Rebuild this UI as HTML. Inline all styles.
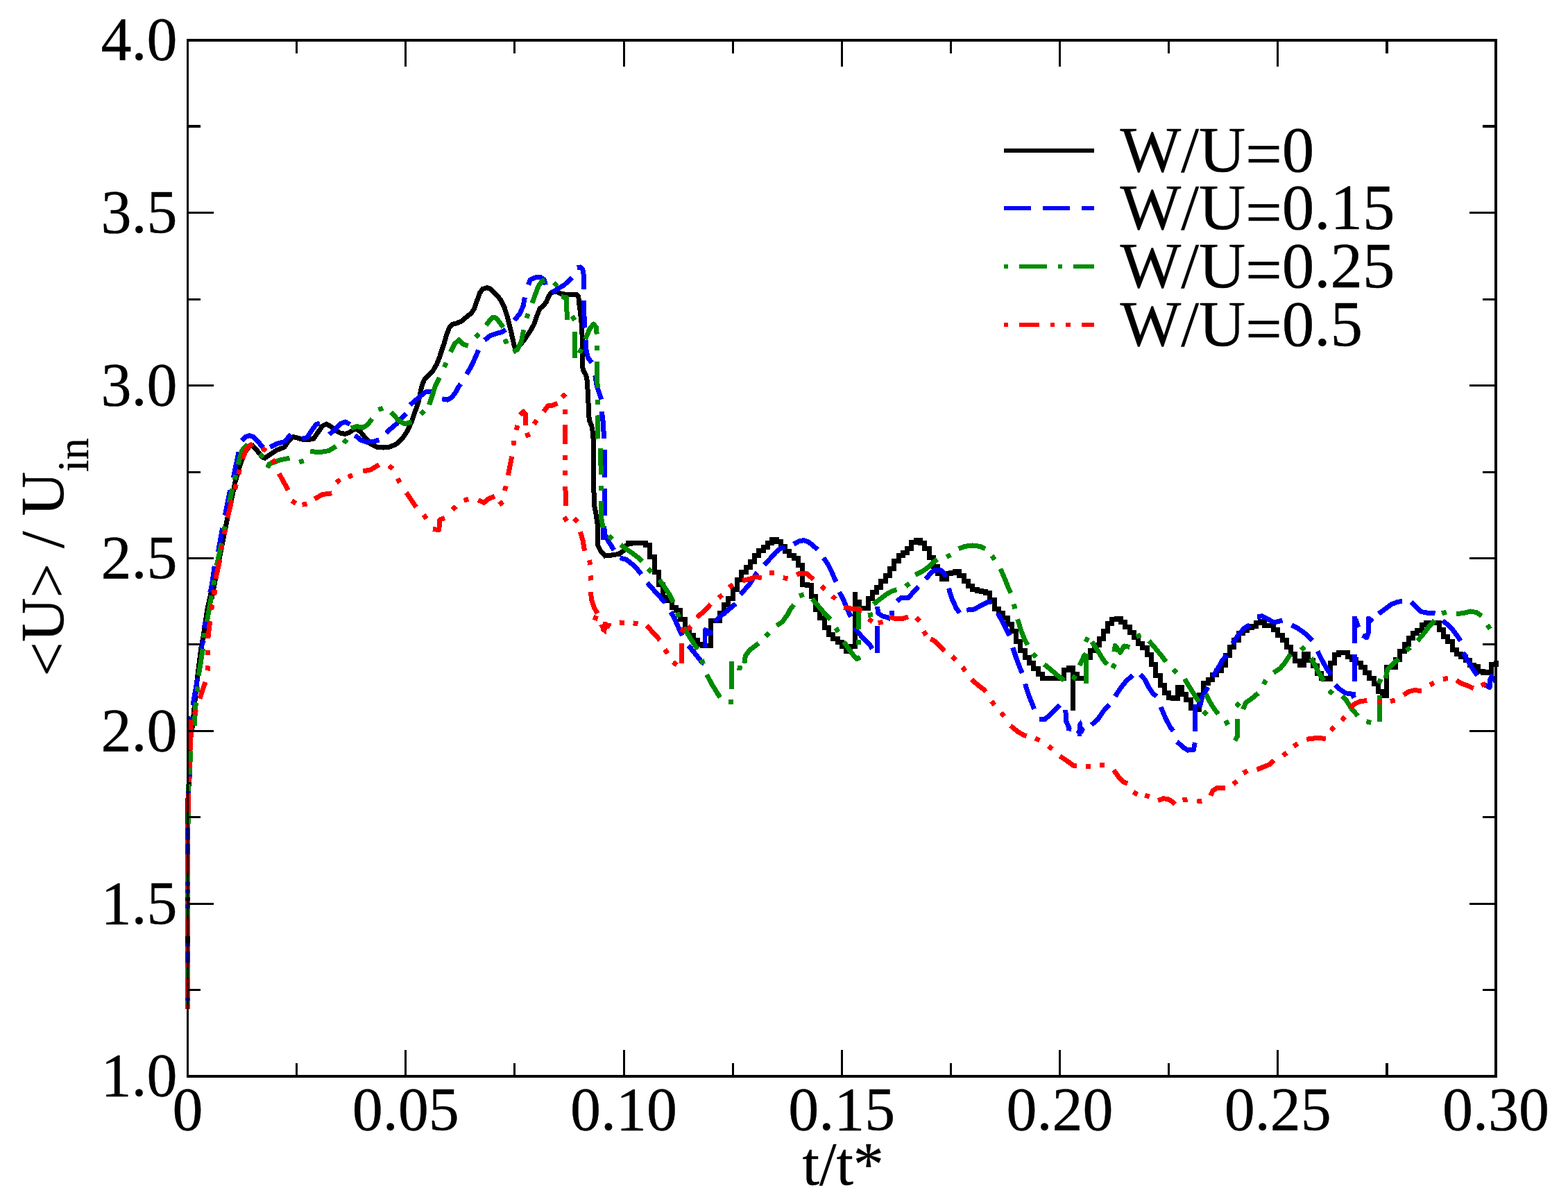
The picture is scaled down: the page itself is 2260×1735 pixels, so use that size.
<!DOCTYPE html>
<html lang="en"><head><meta charset="utf-8"><title>&lt;U&gt; / U_in vs t/t*</title>
<style>
html,body{margin:0;padding:0;background:#fff;}
body{width:2260px;height:1735px;overflow:hidden;}
svg{display:block;}
text{font-family:"Liberation Serif","DejaVu Serif",serif;fill:#000;stroke:#000;stroke-width:0.4px;stroke-linejoin:round;}
.tk{font-size:88px;}
.lg{font-size:93px;}
.c{fill:none;stroke-linecap:butt;}
</style></head><body>
<svg width="2260" height="1735" viewBox="0 0 2260 1735">
<rect x="0" y="0" width="2260" height="1735" fill="#fff"/>
<g shape-rendering="crispEdges" stroke-linejoin="round">
<path class="c" d="M270.8 1454.4L270.8 1150L271.6 1160L272.1 1126.8L273.6 1089.9L274.9 1062.2L277.7 1043.7L280.4 1016.1L284.1 979.2L288.7 942.3L293.4 914.6L298.9 877.7L305 850L305 863.3L314.8 812.2L326.7 751.9L338.9 695.2L346.8 667.8L353.2 651.4L359.6 643.1L364.2 642.2L371.5 650.5L377.9 658.7L381.5 660.1L387.9 655.9L398.9 648.6L409.8 644.4L417.1 634L422.6 629.4L429.9 631.3L435.4 633.1L444.6 633.5L451.9 632.2L458.3 623L464.7 613.9L470.1 611.2L475.6 613.9L482.9 619.4L490.2 624L497.6 625.4L503.9 623L510.3 618.5L514 618.1L519.5 622.1L526.8 631.3L534.1 639.5L543.2 644.1L552.4 645L561.5 644.1L570.6 640.4L579.8 632.2L587.1 621.2L592.6 609.3L592.6 609.3L602.9 580L607.5 557.9L611.2 547.9L616.6 541.5L624 534.2L629.4 525L633.1 515.9L636.7 504.9L640.4 494L644.1 481.2L647.7 472L652.3 467.5L658.7 465.6L665.1 462.9L671.5 457.4L678.8 451.9L683.3 445.5L686.1 437.3L688.8 430L688.8 429.9L691.2 422.6L695.7 416.4L702.1 414.7L707.2 416.4L711.6 420.8L716.7 425.9L722.2 433.2L726.8 442.3L731.4 456.9L736.8 478.9L741.4 499L743.8 503.5L749.6 497.1L756.9 488L764.3 477L770.1 466.5L773 457.3L775.6 450.7L778.3 444.5L782.5 441.1L787.1 435.6L790.8 427.3L794.4 421.5L797.5 420L800.8 420L805.4 421.9L809.9 423.7L815.4 424.1L822.7 424.1L831 424.1L833.7 426.8L834.6 436.8L836.4 449.6L838.3 467.9L839.2 486.2L839.2 504.5L839.5 522.7L840.1 531.9L844.7 541L846.5 550.1L847.4 568.4L848.3 586.7L849.2 605L852.9 614.1L854.7 625.1L854.7 625.6L855.3 636.5L855.6 673.1L856 709.6L856.5 727.9L859.3 742.5L861.1 755.3L861.5 773.6L862 786.4L865.7 793.7L872.1 801L881.2 800.1L892.2 798.3L898.6 793.7L902.2 786.4L906.8 783.6L914.1 782.7M1232.1 853.2L1232.1 933.6M1546.4 962.8L1546.4 1023.7M902.4 782.7L905.3 782.7L905.3 782.7L911.6 782.7L911.6 782.7L917.9 782.7L917.9 782.7L924.1 782.7L924.1 782.7L930.4 782.7L930.4 785.9L936.7 785.9L936.7 802.6L943 802.6L943 824.9L949.3 824.9L949.3 842.8L955.6 842.8L955.6 860.4L961.9 860.4L961.9 865.9L968.1 865.9L968.1 875.9L974.4 875.9L974.4 879.6L980.7 879.6L980.7 892.9L987 892.9L987 908.8L993.3 908.8L993.3 915.2L999.6 915.2L999.6 922.5L1005.8 922.5L1005.8 928L1012.1 928L1012.1 930.6L1018.4 930.6L1018.4 930.3L1024.7 930.3L1024.7 894.7L1031 894.7L1031 894.6L1037.3 894.6L1037.3 883.2L1043.6 883.2L1043.6 871.4L1049.8 871.4L1049.8 862.7L1056.1 862.7L1056.1 849.7L1062.4 849.7L1062.4 835.5L1068.7 835.5L1068.7 824.6L1075 824.6L1075 817.1L1081.3 817.1L1081.3 809.6L1087.6 809.6L1087.6 800.5L1093.8 800.5L1093.8 793.5L1100.1 793.5L1100.1 788L1106.4 788L1106.4 782.7L1112.7 782.7L1112.7 777.6L1119 777.6L1119 780.4L1125.3 780.4L1125.3 787.8L1131.5 787.8L1131.5 794.6L1137.8 794.6L1137.8 800.1L1144.1 800.1L1144.1 804.7L1150.4 804.7L1150.4 814.8L1156.7 814.8L1156.7 842.4L1163 842.4L1163 843.9L1169.3 843.9L1169.3 859.1L1175.5 859.1L1175.5 878.7L1181.8 878.7L1181.8 890.8L1188.1 890.8L1188.1 904L1194.4 904L1194.4 914.5L1200.7 914.5L1200.7 920.9L1207 920.9L1207 925.5L1213.2 925.5L1213.2 931.9L1219.5 931.9L1219.5 938.5L1225.8 938.5L1225.8 931.4L1232.1 931.4L1232.1 867L1238.4 867L1238.4 876.9L1244.7 876.9L1244.7 876.9L1251 876.9L1251 862.8L1257.2 862.8L1257.2 853.5L1263.5 853.5L1263.5 846.2L1269.8 846.2L1269.8 837.6L1276.1 837.6L1276.1 829.1L1282.4 829.1L1282.4 819.6L1288.7 819.6L1288.7 808.7L1295 808.7L1295 800.4L1301.2 800.4L1301.2 796.3L1307.5 796.3L1307.5 790.8L1313.8 790.8L1313.8 781.3L1320.1 781.3L1320.1 778.5L1326.4 778.5L1326.4 782.6L1332.7 782.6L1332.7 790.8L1339 790.8L1339 803.2L1345.2 803.2L1345.2 816.9L1351.5 816.9L1351.5 826.4L1357.8 826.4L1357.8 834.2L1364.1 834.2L1364.1 826.5L1370.4 826.5L1370.4 825.8L1376.7 825.8L1376.7 823.7L1382.9 823.7L1382.9 829.2L1389.2 829.2L1389.2 837.4L1395.5 837.4L1395.5 844.3L1401.8 844.3L1401.8 849.7L1408.1 849.7L1408.1 851.1L1414.4 851.1L1414.4 852.5L1420.7 852.5L1420.7 854.6L1426.9 854.6L1426.9 864.8L1433.2 864.8L1433.2 877.1L1439.5 877.1L1439.5 883.9L1445.8 883.9L1445.8 890.8L1452.1 890.8L1452.1 899L1458.4 899L1458.4 909.4L1464.7 909.4L1464.7 924.5L1470.9 924.5L1470.9 937.5L1477.2 937.5L1477.2 947L1483.5 947L1483.5 955.2L1489.8 955.2L1489.8 963.4L1496.1 963.4L1496.1 971.6L1502.4 971.6L1502.4 977.2L1508.6 977.2L1508.6 977.9L1514.9 977.9L1514.9 977.9L1521.2 977.9L1521.2 977.9L1527.5 977.9L1527.5 977.9L1533.8 977.9L1533.8 965L1540.1 965L1540.1 962.8L1546.4 962.8L1546.4 971.8L1552.6 971.8L1552.6 977.2L1558.9 977.2L1558.9 977.2L1565.2 977.2L1565.2 947.6L1571.5 947.6L1571.5 937.9L1577.8 937.9L1577.8 929.7L1584.1 929.7L1584.1 920.5L1590.4 920.5L1590.4 909.5L1596.6 909.5L1596.6 898.7L1602.9 898.7L1602.9 892.6L1609.2 892.6L1609.2 891.2L1615.5 891.2L1615.5 896.6L1621.8 896.6L1621.8 903.5L1628.1 903.5L1628.1 911.7L1634.3 911.7L1634.3 918.8L1640.6 918.8L1640.6 927L1646.9 927L1646.9 933.1L1653.2 933.1L1653.2 943.4L1659.5 943.4L1659.5 957.1L1665.8 957.1L1665.8 973.3L1672.1 973.3L1672.1 987L1678.3 987L1678.3 998.2L1684.6 998.2L1684.6 1005.7L1690.9 1005.7L1690.9 1006.3L1697.2 1006.3L1697.2 990.7L1703.5 990.7L1703.5 1000.2L1709.8 1000.2L1709.8 1008.4L1716 1008.4L1716 1020.6L1722.3 1020.6L1722.3 1022.9L1728.6 1022.9L1728.6 1001.4L1734.9 1001.4L1734.9 984.4L1741.2 984.4L1741.2 979.6L1747.5 979.6L1747.5 972.8L1753.8 972.8L1753.8 966.6L1760 966.6L1760 958.4L1766.3 958.4L1766.3 944.6L1772.6 944.6L1772.6 932.3L1778.9 932.3L1778.9 922.7L1785.2 922.7L1785.2 912.5L1791.5 912.5L1791.5 908.4L1797.8 908.4L1797.8 904.9L1804 904.9L1804 902.2L1810.3 902.2L1810.3 897.8L1816.6 897.8L1816.6 895.2L1822.9 895.2L1822.9 901.1L1829.2 901.1L1829.2 901.1L1835.5 901.1L1835.5 907.6L1841.8 907.6L1841.8 915.3L1848 915.3L1848 922.6L1854.3 922.6L1854.3 932.4L1860.6 932.4L1860.6 942.8L1866.9 942.8L1866.9 952.5L1873.2 952.5L1873.2 958.4L1879.5 958.4L1879.5 942.7L1885.7 942.7L1885.7 951.5L1892 951.5L1892 959.5L1898.3 959.5L1898.3 970.4L1904.6 970.4L1904.6 977.2L1910.9 977.2L1910.9 978L1917.2 978L1917.2 955.5L1923.5 955.5L1923.5 943.5L1929.7 943.5L1929.7 940L1936 940L1936 940.3L1942.3 940.3L1942.3 946.6L1948.6 946.6L1948.6 950.4L1954.9 950.4L1954.9 955L1961.2 955L1961.2 961L1967.5 961L1967.5 969.5L1973.7 969.5L1973.7 977L1980 977L1980 985L1986.3 985L1986.3 996.1L1992.6 996.1L1992.6 1002.7L1998.9 1002.7L1998.9 961L2005.2 961L2005.2 961L2011.4 961L2011.4 950.3L2017.7 950.3L2017.7 938.6L2024 938.6L2024 928.5L2030.3 928.5L2030.3 919.5L2036.6 919.5L2036.6 912.3L2042.9 912.3L2042.9 908.2L2049.2 908.2L2049.2 900.5L2055.4 900.5L2055.4 897.5L2061.7 897.5L2061.7 897.5L2068 897.5L2068 897.5L2074.3 897.5L2074.3 907.7L2080.6 907.7L2080.6 917.1L2086.9 917.1L2086.9 924.2L2093.2 924.2L2093.2 936.1L2099.4 936.1L2099.4 942L2105.7 942L2105.7 946.8L2112 946.8L2112 951.6L2118.3 951.6L2118.3 958.7L2124.6 958.7L2124.6 960.5L2130.9 960.5L2130.9 967L2137.1 967L2137.1 969.4L2143.4 969.4L2143.4 968.2L2149.7 968.2L2149.7 957L2156 957L2156 951.5L2156 951.5" stroke="#000000" stroke-width="7" stroke-linejoin="miter"/>
<path d="M1013 932.9L1013 907.3L1015 904.1L1018.7 905L1027.8 909.6L1027.8 913.7L1021.4 916L1019.1 916.9L1019.1 932.9ZM1557.6 1037.3L1559.8 1041.7L1560.3 1046.6L1563.9 1051L1562 1054.8L1560.3 1058.1L1558.9 1057L1558.9 1060.9L1553.2 1060.9L1553.2 1058.1L1551 1055.9L1552.1 1052.1L1553.2 1051.5L1553.2 1043.3L1555.9 1039.5Z" fill="#0000ff" stroke="none"/>
<path class="c" d="M270.8 1442.4L270.8 1437.8M270.8 1387.1L270.8 1370.5M270.8 1364L270.8 1358.5M270.8 1308.7L270.8 1303.1M270.8 1286.5L270.8 1281.9M270.8 1276.4L270.8 1270.8M270.8 1231.2L270.8 1215.5M270.8 1210L271 1193.4M271.6 1143.4L271.6 1139.7M273.1 1119.4L273.1 1115.7M274.9 1040L275.8 1032.7M278 1016.1L284.7 977.3M289.1 934.9L293.4 922.9M294.3 905.4L296.1 896.1M302.6 853.7L303.5 850M303.9 852.4L309.3 815.8M314.3 795.7L320.7 761M324.3 742.7L331.6 706.2M336.2 688.8L344.1 651.4M348.6 634.9L354.1 629.4L359.6 627.6L365.1 629.4L371.5 635.8L379.1 645M389.4 644.4L398.9 639.5L409.8 636.7L419.3 626.1M435.1 632.5L442.7 630.4L450 619.4L455.5 611.5L461 610.3M474.7 626.1L482.9 618.5L490.2 610.8L497.6 607.9L504.5 611.5M511.8 627.2L519.5 634L528.6 637.1L537.8 636.4L546.5 634M556.4 623.6L570.6 611.5L585.6 596.2M591.1 583.5L603.9 572.5L613 565L622.6 564.8M637.2 574.8L645 576.2L651.4 572.5L656.8 565.2L660.5 557.9L664.2 553.3M672.4 539.2L678.8 528.7L684.3 516.8L689.7 504.5M698.4 490.3L706.2 483.9L715.3 480.7L723.5 478.4L729 474.8M741.4 461.5L749.6 451.5L754.2 440.5L756.4 428.6M761.5 410.4L764.3 403L771.6 399.9L778.9 399.4L784.4 403L786.2 410.4M795.3 422.2L804.5 415.8L813.6 410.4L824.6 399.9M831.9 386L836.4 385L839.7 387.9L841 394.8L841 416.7M841.4 433.2L841.9 453.3L842.8 472.5M844.3 489.8L845 504.5L847.4 515.4L852.9 522.7M857.8 541L860.2 555.6L863.8 566.6L866.6 575.7M867.5 593.1L869.3 609.1L870.6 632M871.2 648.4L871.2 687.7M871.2 704.2L871.7 743.4M869.9 760.8L869.9 778.2M870.6 758.1L871.7 769.9L877.6 780.9L884.9 792.8M893.7 803.8L902.8 806.5L911.1 812.9L918.4 820.2L924.3 827.5M933 839.8L944 852.2L953.1 862.2L958.6 868.6M966.8 881.9L972.3 891.5L977.8 904.3L983.2 916.1M992.2 930.2L1000.4 940.2L1007.7 949.3L1012.3 954.8L1015 955.9M1030.3 895.6L1039.9 886.9L1049.9 878.7L1060.4 870M1067.3 856.8L1080 842.1L1090.1 826.7L1091.9 825.1M1101.5 813.9L1110.2 804.8L1118.4 795.6L1125.7 789.7L1131.6 789.1M1144 784.2L1152.2 779.6L1158.6 778.7L1165 781L1171.4 785.6L1178.2 792M1186.9 803.9L1193.3 813L1198.8 824L1203.3 834.9L1205.2 838.6M1209.7 853.2L1215.2 863.2L1219.8 874.2L1226.2 888.8M1231.7 904.7L1239 913.8L1246.3 922L1253.6 929.3L1257.2 934.8M1264.6 941.2L1264.6 901.9M1264.6 874.2L1265.5 883.3L1271.9 887.9L1280 889.7M1278.2 889.5L1283.7 891.8M1285.1 886.8L1285.1 880.3M1293 866.6L1299.1 861.1L1309.1 861.7L1311.8 858.4L1316.6 853.2L1323.7 845.2M1334.4 834.7L1341.3 825.8L1348.1 821L1355 821L1360.5 825.8L1363.2 831.3M1367.3 847.7L1372.1 862.8L1378.3 876.5L1383.1 883.3M1393.3 879.2L1404.3 877.9L1415.3 871.7L1423.5 867.6L1430.3 866.9M1437.9 883.3L1444.1 894.3L1449.5 905.3L1455 916.2M1459.8 933.4L1464.6 947.8L1470.1 962.8L1473.5 969.7M1477.6 985.4L1482.4 1001.1L1487.9 1014.8L1490.6 1021.7M1498.2 1037L1505.7 1036.7L1513.9 1029.9L1522.2 1021.7L1527.7 1016.2M1573 1044.7L1581.9 1037.2L1590.2 1024.9L1599.1 1015.3M1607.3 1003.6L1614.8 992L1623 981.7L1632.6 972.8M1643.6 972.1L1650.5 979.6L1655.9 990.6L1661.4 998.8L1666.9 1003.6M1673.1 1018.7L1679.2 1033.1L1686.1 1046.8L1690.9 1053.6M1696.4 1068.7L1705.3 1076.9L1712.1 1081.1L1720.3 1080.4L1722.4 1070.1M1722.4 1053.6L1722.4 1014.6M1729.3 1018.7L1733 1003.6L1741.2 990.3M1747.8 975.5L1754.6 964.6L1761.5 952.2L1768.3 944M1776.5 927.6L1784.8 915.2L1793 905.6L1801.2 900.4M1812.2 888.5L1819 887.8L1825.9 891.2L1834.1 896L1840.9 896L1848.5 894M1952.3 926.6L1952.3 888M1953.9 892.1L1958 904M1952.3 943.2L1952.3 982.4M1963.9 915.3L1969.9 918.9L1972.3 911.2L1972.3 896.9L1972.3 891L1978.8 895.7M1987.1 884.4L1996 877.9L2005.5 870.8L2015 867.2L2021 866.6M2034 867.8L2041.2 874.3L2048.3 881.5L2057.8 883.2L2068.5 883.8M2079.2 894.5L2088.7 901.7L2095.8 910L2101.7 918.3L2105.3 923.6M2108.9 940.3L2116 952.7L2123.1 964.6L2129.1 973.5M1861.4 900.8L1871 905.6L1880.6 912.5L1891.5 923.4M1899.1 938.5L1905.2 950.9L1912.1 963.2L1918.2 972.1M1924.4 987.2L1931.3 993.3L1939.5 998.8L1949.1 1000.2L1953.9 1000.2M1949.1 1000.2L1951.8 1005.7M2135.5 985.8L2142.3 987.9L2147.1 990.6L2147.8 979.6L2149.9 974.8L2156 982.4M1535.9 1022.8L1536.3 1038.4L1541.1 1049.3L1540.5 1053.5" stroke="#0000ff" stroke-width="7"/>
<path class="c" d="M270.8 1447L270.8 1442.4M270.8 1409.2L270.8 1393.5M270.8 1320.7L270.8 1308.7M270.8 1293L270.8 1286.5M270.8 1270.8L270.8 1259.8M271.2 1186.9L271.4 1171.2M271.8 1139.7L271.8 1130.4M273.6 1115.7L273.6 1106.5M274 1098.2L274 1081.5M280.1 1045.6L282.3 1012.4M284.3 996.5L285.1 989.5M286.3 973.6L292.4 934.9M293.8 919L294.8 912M298.3 896.1L304.8 858.3M307.8 843L309 836.2M312.1 815.8L319.4 782.9M323 765.3L324.2 758.5M330.4 724.5L334.9 704.4M338.1 691.3L339.7 684.5M343.1 669.6L348.6 649.5L356.8 640.4M374.6 653.8L379.2 659.2M385.7 674.2L387.9 668.7L404.4 662.7L417.5 660.1M431.2 666.2L437.8 664M447.3 650.5L461 651.7L473.8 649.5L484.4 643.1M495.4 638.5L499.8 633.1M505.8 617L514 614.5L523.1 616.3L530.4 611.5L536.3 603.5M545.4 590.4L552 588M563.7 593.8L574.3 605.7L583.4 610.8L593.5 607.9M606.5 597.1L611.5 592.3M618.5 583.5L624 567L627.6 556.1L633.5 544.2M640.4 529.1L643.2 522.7M649.5 507.2L655 495.8L661.4 489.8L666.9 495.8L674.7 498.5M685.6 486L690.2 480.8M700.7 468.8L706.2 461.1L710.8 457L715.3 458.3L720.8 465.6L725.4 471.6M727.7 488.8L730.3 495.4M739.6 507.2L746 503.5L751.5 491.7L754.8 475.2M759.1 458.4L761.3 451.8M767 436.8L771.6 424.1L776.1 412.2L781.6 404.9L785.3 404M798.3 407.3L803.3 412.3M809 427.7L816.3 428.6L816.9 442.3L817.2 460.6M824.5 455.4L828.3 461.4M828.2 478L828.2 516.3M834.7 508.9L838.1 502.9M843.7 488.9L850.1 473.4L855.6 467L859.3 471.6L860.2 481.6M860.6 498.2L860.6 505.2M860.6 520.9L861.1 559.3M861.1 575.5L861.1 582.5M861.1 598.5L861.5 632.5M865.7 645.7L866.2 684.1M866.6 699.7L866.6 706.7M866.6 722.4L866.6 746.2L869.3 760.8M877.8 772.1L882.8 776.9M894.6 785L903.8 791.9L912.9 798.3L920.2 803.8L925.7 809.2M934.2 819.5L939 824.5M950.4 835.3L957.7 845.8L965 856.7L970.5 867.7M976 882.7L978.6 889.3M985.1 904.3L988.5 909.1L995.8 921L1002.2 931.1L1005.9 935.2M1011.2 950.6L1013.4 957.2M1018.7 972.2L1026 985.9L1033.3 997.8L1037.9 1005.1M1053.6 1008.2L1053.6 1014.9M1054 992.7L1054 953M1062.7 962.1L1069.7 963.1M1072.8 955.7L1074.4 944.8L1080.8 936.5L1088.1 931.1L1093.6 927M1103.4 916.7L1108.4 911.7M1119.3 901.6L1127.5 896.1L1134.8 886.1L1140.3 876L1144.4 871.5M1152.1 858.9L1158.7 856.7M1170.5 863.2L1178.7 872.4L1187.8 883.3L1196.9 892.5M1204.7 904.8L1208.3 910.8M1216.1 924.8L1222.5 933.9L1229.8 944L1235.3 949.6L1239.9 947.2M1237.8 928.7L1237.4 921.7M1237.6 906.5L1237.6 874.2M1251 886.7L1258 885.5M1259 870.6L1270 862.1L1278.2 855.9L1285.1 852.1L1292.6 849.8M1305.4 845.1L1310.8 840.7M1319.3 828.5L1328.9 823.7L1338.5 816.9L1345.4 810L1350.9 805.9M1364.2 802.6L1370.4 799.6M1381.7 790.8L1390.6 787.4L1401.6 786L1412.5 787.4L1420.1 790.8M1429.6 800.8L1433.8 806.4M1442 819.6L1448.2 834L1453.6 847.7L1457.1 854.6M1461.2 870.4L1463 877.2M1466.7 892.3L1471.5 908L1476.9 921.7L1481.1 929.3M1488.6 941.6L1493.2 947M1505 957.3L1515.3 965.6L1524.9 973.8L1533.8 980.6M1546.5 979.4L1549.9 973.2M1563.3 920.2L1569.5 923.4M1565.5 985.4L1565.5 942M1565.5 942.4L1562.7 944.7L1555.9 959.1M1573.7 924.8L1581.9 937.2L1590.2 950.9L1595.6 957.7M1603.5 962.9L1606.9 956.7M1605.9 939.2L1607.3 930.3L1614.8 940.2L1620.3 931L1628.5 932.4M1607.3 934.4L1614.8 938.5M1637.8 917.5L1644.4 915.1M1655.9 923.4L1665.5 934.4L1673.8 944.7L1680.6 953.6M1690.6 964.6L1695.8 969.4M1707.3 978.3L1714.9 990.6L1721.7 1001.6L1727.9 1011.2M1734.4 1030.2L1739.2 1025M1738.2 1000.2L1743.6 1011.2L1750.5 1022.1L1756 1029M1765.1 1042.8L1771.5 1039.8M1781.4 1017.7L1786.8 1013.3M1791.6 1022.1L1795.7 1012.5L1805.3 1005.7L1813.5 998.8M1783.7 1035.8L1783.7 1060.5L1780 1067.3M1821.2 986.1L1824.6 980.1M1835.5 969.4L1845.1 963.2L1851.9 955L1860 942.6M2027.3 937.4L2032.5 932.8M2042.9 923.6L2050.7 914.7L2059 904L2067.9 893.9M2078.2 883.9L2084.8 881.9M2098.8 884.4L2108.9 883.8L2119.5 880.9L2127.9 882.6L2135.6 887.4M2143.8 900.4L2147.6 906.4M1875.5 931.7L1880.1 937.1M1889.5 948.1L1895.6 959.1L1901.1 970L1908 981M1915.5 995.3L1920.9 999.7M1934.7 1002.9L1940.9 1009.8L1947.7 1020.8L1957.3 1031.7M1969.3 1039.7L1976.1 1041.5M1988.6 1039.9L1988.6 1001.6M1987.6 985L1990 978.4M1997 977.6L1999.8 964.6L2008 956.3L2016.2 949.5" stroke="#008b00" stroke-width="7"/>
<path d="M863.1 901.4L869 899.2L869.3 896.3L874.8 895.9L876.3 898.1L881 898.1L880.7 901.4L877.7 905.8L875.6 905.8L874.1 908.7L873.7 913.8L872.3 913.8L866.1 908.7L865.7 905.1Z" fill="#ff0000" stroke="none"/>
<path class="c" d="M270.8 1454.4L270.8 1447M270.8 1437.8L270.8 1409.2M270.8 1393.5L270.8 1387.1M270.8 1370.5L270.8 1364M270.8 1349.3L270.8 1320.7M270.8 1303.1L270.8 1297.6M270.8 1281.9L270.8 1276.4M270.8 1259.8L270.8 1231.2M270.8 1215.5L270.8 1210M270.8 1193.4L271 1186.9M271.4 1171.2L271.6 1150M271.6 1160L271.6 1143.4M272.9 1126.8L273.1 1119.4M273.8 1106.5L273.8 1098.2M274 1081.5L274.5 1064L275.8 1054.8L274.4 1043.7L275.3 1037.3M280.1 1029.4L282.7 1023M287.8 1006.8L296.1 982.8M299.1 966.4L299.7 959.4M299.8 943.9L299.8 936.9M299.8 920.1L302.6 895.2M304.8 878.4L306 871.4M308.7 857.4L310 850M308.2 856.8L308.6 849.8M310.8 834.1L317 806.7M319 791.8L320.2 785M323.3 769.9L324.7 763.1M328 746.4L334 720.8M338.6 705L340.4 698.2M343.8 683.6L345.4 676.8M349.5 661.4L355 647.7L359.6 642.2L364.5 639.5M377.9 645.4L383.3 650M392.5 662.1L396.1 668.1M402.2 682.4L415.3 706.2M420.8 721.2L426.2 725.8M435.6 727.2L442.6 726.2M453.3 719L464.7 712.6L478.4 710.8M484.9 695.8L490.1 691M501.7 687.4L508.1 684.8M523.1 679.1L534.1 676.9L546.5 669.6M560.6 671.1L566 675.5M572.9 689.5L576.5 695.5M585.6 709.8L599.9 730.9M610.6 741.8L614.8 747.4M623.6 762.8L632.8 763.2L633.7 749.1L641 746.4M652 734.4L657.4 729.8M668.7 721.3L675.3 719.1M689.3 720.6L697.6 724.3L704 718.8L713.1 715.1M719.4 727.3L725 723.1M727.4 707.2L729.2 700.4M732.3 685L735 671.3L737.8 657.6M739.9 641.8L741.1 635M744.3 619.7L745.9 612.9M749.6 597.7L754.2 593.1L757.9 597.7L757.9 613.2M757.3 628.1L763.9 625.7M769.6 611.2L773.6 605.4M783.4 593.1L789.8 584.9L797.1 583.9L803.5 581.2M810.3 567.6L815.1 572.8M814.4 589.6L814.6 596.6M814.5 612.2L814.9 640.2M814.9 655.9L814.9 662.9M814.9 677.8L814.9 684.8M814.9 701.4L815.4 728.8M813.1 745.1L817.1 750.9M827.3 747.2L832.7 751.8M836.4 766.3L840.1 779.1L842.5 793.7M849.3 807.1L850.9 813.9M851.5 829.5L851.7 836.5M851.1 853.1L852.9 865L856.5 875.9L861.1 884.1M855.1 889.3L861.7 891.7M892.9 896.9L899.9 897.9M912.6 897.9L919.6 898.7M932.1 901.5L942.1 912.5L951.3 922.5M958.3 935.8L962.1 941.8M970 954.1L975.6 958.3M982.6 955.7L983 927M982.5 911.4L985.5 905M990.9 907L996.1 902.2M1004.3 889.6L1014.3 881.4L1024.4 870.5M1035.9 861.8L1041.1 857.2M1050.8 846.5L1056.4 842.3M1070 836.7L1080 834.5L1089.1 831.4L1097.8 832.6M1108.9 825.2L1115.9 825.4M1128.6 832.8L1135.6 833.4M1148.1 828.1L1153.1 826.2L1162.2 826.2L1167.7 830.8L1172.3 834.9M1183.8 844.5L1189 849.1M1199.5 858.6L1204.5 863.4M1216.1 875.1L1226.2 876.9L1235.3 877.9L1242.6 879.7M1251.6 892L1257.4 895.8M1265.7 897.6L1272.5 896.4M1282.3 888.8L1290.6 891.6L1300.2 891.6L1309.1 888.8M1320.3 890.2L1325.3 895.2M1331.1 909.5L1334.9 915.3M1341.3 920.3L1348.1 924.5L1355 931.3L1361.1 938.2M1372.2 946L1377.4 950.8M1387 961.5L1391.4 966.9M1400.2 979.2L1409.8 987.4L1418 993.6L1420.8 997M1429.3 1010.4L1433.5 1016M1443 1026.8L1447.2 1032.4M1456.4 1045.7L1467.3 1054.6L1475.6 1059.4L1479.7 1060.7M1492.2 1064L1498.6 1067M1511.1 1075.1L1516.7 1079.3M1527.7 1089.5L1538.6 1097L1548.2 1103.9L1551.6 1103.9M1564.7 1104.3L1571.7 1104.1M1584.9 1102L1591.9 1103M1605.2 1109.6L1612.1 1119.2L1618.9 1126.8L1625.1 1128.8M1633.5 1141.3L1639.5 1145.1M1650.2 1145.8L1656.8 1148M1669 1153.5L1676.5 1150.8L1683.3 1151.4L1690.2 1155.5L1693.6 1159M1704.5 1152.8L1711.5 1152M1725.3 1155.1L1732.3 1154.1M1745 1146.6L1747.8 1139.8L1754.6 1135L1765.6 1135M1777.4 1129.8L1783 1125.6M1792 1114.2L1798 1110.6M1811.5 1109L1820.4 1105.5L1830 1101.4L1836.2 1095.9M1849.1 1088.8L1854.7 1084.8M1864.6 1075.5L1870.4 1071.5M1883.3 1065.3L1894.3 1063.9L1903.9 1063.9L1910.7 1064.3M1918.3 1052.8L1922.9 1047.6M1934 1038.3L1938.6 1032.9M1946.3 1020.1L1953.2 1013.9L1961.4 1010.5L1970.3 1009.5M1984.9 1011.2L1991.9 1011.2M2003.9 1010.7L2010.7 1008.9M2023.1 1001.6L2029.9 996.8L2038.2 994.7L2049.1 995.4M2060.8 987L2067 983.8M2079.9 978.5L2086.9 977.5M2099.1 980.3L2106.7 985.1L2114.9 987.9L2123.8 992M2134.9 987.7L2141.5 985.3" stroke="#ff0000" stroke-width="7"/>
</g>
<g fill="#000" shape-rendering="crispEdges">
<rect x="269" y="56" width="3" height="1497"/>
<rect x="2154" y="56" width="4" height="1497"/>
<rect x="269" y="56" width="1889" height="4"/>
<rect x="269" y="1549" width="1889" height="4"/>
<rect x="426" y="1532" width="3" height="17"/>
<rect x="426" y="60" width="3" height="17"/>
<rect x="583" y="1513" width="3" height="36"/>
<rect x="583" y="60" width="3" height="36"/>
<rect x="740" y="1532" width="3" height="17"/>
<rect x="740" y="60" width="3" height="17"/>
<rect x="898" y="1513" width="3" height="36"/>
<rect x="898" y="60" width="3" height="36"/>
<rect x="1055" y="1532" width="3" height="17"/>
<rect x="1055" y="60" width="3" height="17"/>
<rect x="1212" y="1513" width="3" height="36"/>
<rect x="1212" y="60" width="3" height="36"/>
<rect x="1369" y="1532" width="3" height="17"/>
<rect x="1369" y="60" width="3" height="17"/>
<rect x="1526" y="1513" width="3" height="36"/>
<rect x="1526" y="60" width="3" height="36"/>
<rect x="1683" y="1532" width="3" height="17"/>
<rect x="1683" y="60" width="3" height="17"/>
<rect x="1840" y="1513" width="3" height="36"/>
<rect x="1840" y="60" width="3" height="36"/>
<rect x="1997" y="1532" width="4" height="17"/>
<rect x="1997" y="60" width="4" height="17"/>
<rect x="272" y="1425" width="17" height="3"/>
<rect x="2137" y="1425" width="17" height="3"/>
<rect x="272" y="1301" width="36" height="3"/>
<rect x="2118" y="1301" width="36" height="3"/>
<rect x="272" y="1176" width="17" height="3"/>
<rect x="2137" y="1176" width="17" height="3"/>
<rect x="272" y="1052" width="36" height="3"/>
<rect x="2118" y="1052" width="36" height="3"/>
<rect x="272" y="927" width="17" height="3"/>
<rect x="2137" y="927" width="17" height="3"/>
<rect x="272" y="803" width="36" height="3"/>
<rect x="2118" y="803" width="36" height="3"/>
<rect x="272" y="679" width="17" height="3"/>
<rect x="2137" y="679" width="17" height="3"/>
<rect x="272" y="554" width="36" height="3"/>
<rect x="2118" y="554" width="36" height="3"/>
<rect x="272" y="430" width="17" height="3"/>
<rect x="2137" y="430" width="17" height="3"/>
<rect x="272" y="305" width="36" height="3"/>
<rect x="2118" y="305" width="36" height="3"/>
<rect x="272" y="180" width="17" height="4"/>
<rect x="2137" y="180" width="17" height="4"/>
</g>
<text class="tk" x="270.5" y="1628.2" text-anchor="middle">0</text>
<text class="tk" x="584.8" y="1628.2" text-anchor="middle">0.05</text>
<text class="tk" x="899.0" y="1628.2" text-anchor="middle">0.10</text>
<text class="tk" x="1213.3" y="1628.2" text-anchor="middle">0.15</text>
<text class="tk" x="1527.5" y="1628.2" text-anchor="middle">0.20</text>
<text class="tk" x="1841.8" y="1628.2" text-anchor="middle">0.25</text>
<text class="tk" x="2156.0" y="1628.2" text-anchor="middle">0.30</text>
<text class="tk" x="255.5" y="1579.3" text-anchor="end">1.0</text>
<text class="tk" x="255.5" y="1330.5" text-anchor="end">1.5</text>
<text class="tk" x="255.5" y="1081.6" text-anchor="end">2.0</text>
<text class="tk" x="255.5" y="832.8" text-anchor="end">2.5</text>
<text class="tk" x="255.5" y="584.0" text-anchor="end">3.0</text>
<text class="tk" x="255.5" y="335.1" text-anchor="end">3.5</text>
<text class="tk" x="255.5" y="86.3" text-anchor="end">4.0</text>
<text class="tk" x="1215.2" y="1707.4" text-anchor="middle">t/t*</text>
<text class="tk" transform="translate(91.3 803) rotate(-90)" text-anchor="middle"><tspan dy="6">&lt;</tspan><tspan dy="-6">U</tspan><tspan dy="6">&gt;</tspan><tspan dy="-6"> / U</tspan><tspan font-size="62.5px" dy="35.5">in</tspan></text>
<g shape-rendering="crispEdges" fill="none" stroke-width="6">
<path d="M1446.5 217.0 H1577" stroke="#000000"/>
<path d="M1446.5 300.0 H1577" stroke="#0000ff" stroke-dasharray="39.5 16.5"/>
<path d="M1446.5 384.0 H1577" stroke="#008b00" stroke-dasharray="6.5 16 40 15.5"/>
<path d="M1446.5 468.0 H1577" stroke="#ff0000" stroke-dasharray="6.5 16 29 15.5 6.5 16"/>
</g>
<text class="lg" x="1614.5" y="246.9">W/U<tspan dy="6.5">=</tspan><tspan dy="-6.5">0</tspan></text>
<text class="lg" x="1614.5" y="330.2">W/U<tspan dy="6.5">=</tspan><tspan dy="-6.5">0.15</tspan></text>
<text class="lg" x="1614.5" y="413.9">W/U<tspan dy="6.5">=</tspan><tspan dy="-6.5">0.25</tspan></text>
<text class="lg" x="1614.5" y="498.0">W/U<tspan dy="6.5">=</tspan><tspan dy="-6.5">0.5</tspan></text>
</svg>
</body></html>
